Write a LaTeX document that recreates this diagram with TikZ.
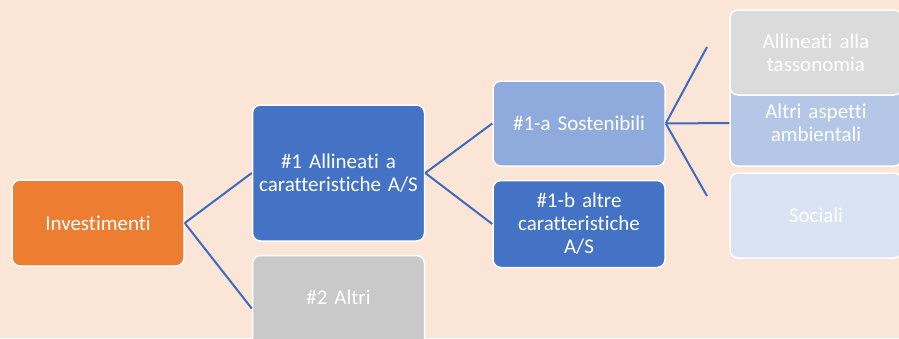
\documentclass[tikz,border=0pt]{standalone}
\usepackage{fontspec}
\setmainfont{Carlito}[Ligatures={NoCommon}]
\usetikzlibrary{positioning}
\definecolor{peach}{HTML}{FBE5D6}
\definecolor{orangebox}{HTML}{ED7D31}
\definecolor{bluebox}{HTML}{4472C4}
\definecolor{linkblue}{HTML}{3F6BBF}
\definecolor{midblue}{HTML}{8FAADC}
\definecolor{paleblue}{HTML}{B4C7E7}
\definecolor{iceblue}{HTML}{DAE3F3}
\definecolor{greybox}{HTML}{C9C9C9}
\definecolor{lightgrey}{HTML}{DBDBDB}
\newcommand{\boxfont}{\fontsize{21}{23}\selectfont}

\begin{document}
\begin{tikzpicture}[x=1pt,y=-1pt,
        box/.style={draw=white,rectangle,rounded corners=8pt,line width=1.5pt,
        minimum width=172pt,text width=160pt,align=center,text=white,font=\boxfont},
        link/.style={draw=linkblue,line width=2pt}]
        \fill[peach] (0,0) rectangle (899,338);
        \useasboundingbox (0,0) rectangle (899,338);
        \clip (0,0) rectangle (899,338);
        \node[box,fill=orangebox,minimum height=86pt] (invest) at (98,223) {Investimenti};
        \node[box,fill=bluebox,minimum height=136pt] (first) at (338.5,173)
        {\#1 Allineati a\\caratteristiche A/S};
        \node[box,fill=greybox,minimum height=96pt,text height=15pt,text depth=13pt,
        below=13pt of first] (others) {\#2 Altri};
        \node[box,fill=midblue,minimum height=85pt] (sustain) at (579,123.5) {\#1-a Sostenibili};
        \node[box,fill=bluebox,minimum height=87pt,below=13pt of sustain] (otherchar)
        {\#1-b altre\\caratteristiche\\A/S};
        \node[box,fill=paleblue,minimum height=86pt] (environ) at (816,123) {Altri aspetti\\ambientali};
        \node[box,fill=lightgrey,minimum height=85pt] (taxonomy) at (816,52.5) {Allineati alla\\tassonomia};
        \node[box,fill=iceblue,minimum height=85pt] (social) at (816,215.5) {Sociali};
        \coordinate (taxend) at (707,47);
        \coordinate (socend) at (707,196);
        \draw[link] (invest.east) -- (first.west);
        \draw[link] (invest.east) -- ([yshift=-5pt]others.west);
        \draw[link] (first.east) -- (sustain.west);
        \draw[link] (first.east) -- (otherchar.west);
        \draw[link] (sustain.east) -- (taxend);
        \draw[link] (sustain.east) -- (environ.west);
        \draw[link] (sustain.east) -- (socend);
    \end{tikzpicture}
\end{document}
